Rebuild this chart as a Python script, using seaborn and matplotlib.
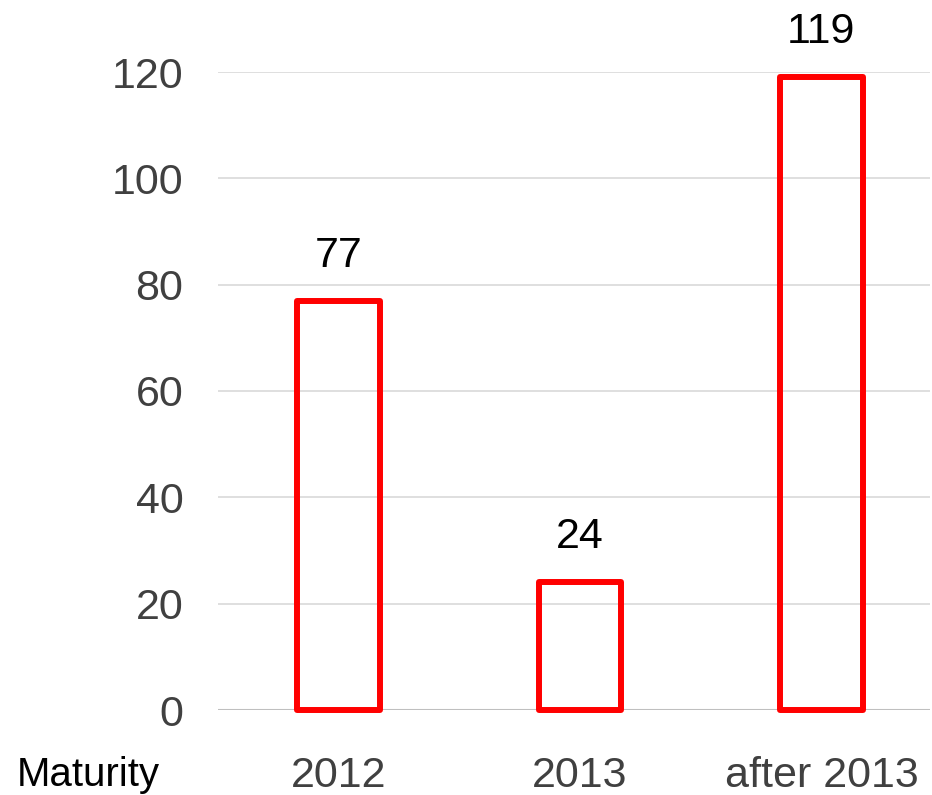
import matplotlib
matplotlib.use("Agg")
import matplotlib.pyplot as plt
import seaborn as sns
import pandas as pd

# data
categories = ["2012", "2013", "after 2013"]
values = [77, 24, 119]
y_ticks = [0, 20, 40, 60, 80, 100, 120]

sns.set_theme(style="white")
plt.rcParams["font.family"] = ["Liberation Sans", "DejaVu Sans"]

W, H = 932, 795
fig = plt.figure(figsize=(W / 100, H / 100), dpi=100)
ax = fig.add_axes([218 / W, (H - 710) / H, (930 - 218) / W, (710 - 72) / H])

df = pd.DataFrame({"Maturity": categories, "Count": values})
sns.barplot(data=df, x="Maturity", y="Count", ax=ax, fill=False,
            color="#ff0000", linewidth=4.3, width=0.343, zorder=3)

for p in ax.patches:
    p.set_edgecolor("#ff0000")
    p.set_joinstyle("round")
    p.set_clip_on(False)

ax.bar_label(ax.containers[0], labels=[str(v) for v in values],
             padding=18, fontsize=31, color="black")

ax.set_ylim(0, 120)
ax.set_xlim(-0.5, 2.45)
ax.set_yticks(y_ticks)
ax.yaxis.grid(True, color="#d9d9d9", linewidth=1.2, zorder=0)
ax.axhline(0, color="#bfbfbf", linewidth=1.5, zorder=1)
for s in ax.spines.values():
    s.set_visible(False)

ax.tick_params(axis="y", length=0, pad=25, labelsize=31, labelcolor="#404040")
ax.tick_params(axis="x", length=0, pad=33, labelsize=31, labelcolor="#404040")
ax.set_xlabel("")
ax.set_ylabel("")

fig.text(17 / W, 9 / H, "Maturity", ha="left", va="baseline",
         fontsize=29, color="black")

fig.savefig("out.png", dpi=100)
